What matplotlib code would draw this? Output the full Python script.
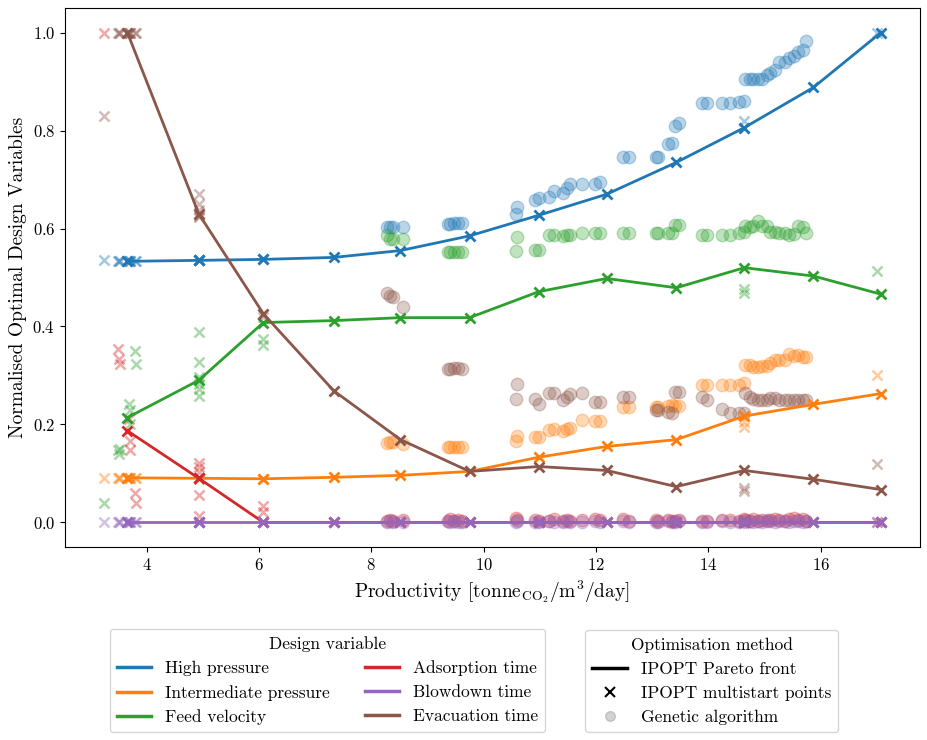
import matplotlib
matplotlib.use('Agg')
import matplotlib.pyplot as plt
from matplotlib.lines import Line2D

plt.rcParams['font.family'] = 'serif'
plt.rcParams['font.serif'] = ['cmr10', 'DejaVu Serif']
plt.rcParams['mathtext.fontset'] = 'cm'
plt.rcParams['axes.formatter.use_mathtext'] = True

variables = ['High pressure', 'Intermediate pressure', 'Feed velocity',
             'Adsorption time', 'Blowdown time', 'Evacuation time']
colors = ['tab:blue', 'tab:orange', 'tab:green', 'tab:red', 'tab:purple', 'tab:brown']

# IPOPT Pareto front
pareto_x = [3.66, 4.93, 6.08, 7.33, 8.52, 9.75, 10.98, 12.19, 13.43, 14.64, 15.87, 17.07]
pareto_hp = [0.533, 0.535, 0.537, 0.541, 0.555, 0.585, 0.627, 0.670, 0.735, 0.806, 0.888, 1.0]
pareto_ip = [0.091, 0.090, 0.089, 0.092, 0.096, 0.104, 0.133, 0.155, 0.169, 0.217, 0.241, 0.263]
pareto_fv = [0.214, 0.290, 0.408, 0.412, 0.418, 0.418, 0.471, 0.498, 0.479, 0.520, 0.503, 0.466]
pareto_at = [0.187, 0.090, 0.0, 0.0, 0.0, 0.0, 0.0, 0.0, 0.0, 0.0, 0.0, 0.0]
pareto_bt = [0.0, 0.0, 0.0, 0.0, 0.0, 0.0, 0.0, 0.0, 0.0, 0.0, 0.0, 0.0]
pareto_et = [1.0, 0.630, 0.426, 0.269, 0.169, 0.104, 0.114, 0.106, 0.073, 0.106, 0.088, 0.067]

# IPOPT multistart points
ms_x = [3.24, 3.49, 3.51, 3.53, 3.69, 3.70, 3.71, 3.80, 3.81,
        4.93, 4.93, 4.93, 4.93, 4.93, 4.93, 6.08, 6.08, 14.64, 14.64, 17.0]
ms_hp = [0.535, 0.533, 0.533, 0.533, 0.533, 0.533, 0.533, 0.533, 0.533,
         0.535, 0.535, 0.535, 0.535, 0.535, 0.535, 0.537, 0.537, 0.820, 0.806, 1.0]
ms_ip = [0.090, 0.091, 0.091, 0.091, 0.091, 0.091, 0.091, 0.091, 0.091,
         0.090, 0.090, 0.090, 0.090, 0.090, 0.090, 0.089, 0.089, 0.195, 0.205, 0.301]
ms_fv = [0.040, 0.147, 0.140, 0.150, 0.242, 0.229, 0.201, 0.350, 0.324,
         0.388, 0.327, 0.297, 0.283, 0.273, 0.259, 0.375, 0.363, 0.477, 0.468, 0.514]
ms_at = [1.0, 0.354, 0.334, 0.324, 0.212, 0.167, 0.147, 0.060, 0.039,
         0.121, 0.113, 0.103, 0.089, 0.055, 0.013, 0.033, 0.021, 0.0, 0.0, 0.0]
ms_bt = [0.0] * 20
ms_et = [0.830, 1.0, 1.0, 1.0, 1.0, 1.0, 1.0, 1.0, 1.0,
         0.671, 0.651, 0.637, 0.623, 0.630, 0.625, 0.420, 0.426, 0.071, 0.065, 0.120]

# Genetic algorithm solutions
ga_x = [8.28, 8.34, 8.39, 8.57,
        9.36, 9.41, 9.48, 9.55, 9.62,
        10.57, 10.60,
        10.92, 10.98, 11.16, 11.25, 11.41, 11.49, 11.53, 11.75, 11.99, 12.08,
        12.49, 12.58, 13.06, 13.10,
        13.29, 13.35, 13.40, 13.47,
        13.89, 13.98, 14.24, 14.39, 14.54, 14.63,
        14.66, 14.75, 14.80, 14.89, 14.96, 15.05, 15.10, 15.19, 15.25, 15.37,
        15.43, 15.52, 15.59, 15.68, 15.73]
ga_hp = [0.604, 0.604, 0.604, 0.604,
         0.610, 0.610, 0.612, 0.612, 0.612,
         0.630, 0.643,
         0.659, 0.663, 0.664, 0.676, 0.673, 0.683, 0.690, 0.690, 0.690, 0.694,
         0.746, 0.746, 0.746, 0.746,
         0.773, 0.775, 0.810, 0.815,
         0.857, 0.857, 0.857, 0.857, 0.859, 0.861,
         0.905, 0.905, 0.905, 0.905, 0.905, 0.914, 0.918, 0.924, 0.941, 0.941,
         0.948, 0.953, 0.960, 0.965, 0.982]
ga_ip = [0.163, 0.165, 0.165, 0.161,
         0.154, 0.154, 0.154, 0.154, 0.154,
         0.166, 0.176,
         0.174, 0.174, 0.188, 0.191, 0.186, 0.191, 0.192, 0.209, 0.208, 0.208,
         0.235, 0.235, 0.235, 0.235,
         0.238, 0.239, 0.237, 0.238,
         0.280, 0.280, 0.280, 0.280, 0.280, 0.285,
         0.322, 0.322, 0.318, 0.317, 0.320, 0.320, 0.325, 0.331, 0.331, 0.331,
         0.343, 0.339, 0.341, 0.337, 0.337]
ga_fv = [0.586, 0.578, 0.578, 0.578,
         0.552, 0.552, 0.552, 0.552, 0.552,
         0.555, 0.582,
         0.557, 0.557, 0.586, 0.586, 0.584, 0.586, 0.587, 0.590, 0.590, 0.590,
         0.590, 0.590, 0.590, 0.590,
         0.590, 0.590, 0.608, 0.608,
         0.586, 0.586, 0.586, 0.586, 0.590, 0.592,
         0.606, 0.603, 0.606, 0.616, 0.606, 0.606, 0.592, 0.592, 0.590, 0.590,
         0.586, 0.589, 0.606, 0.604, 0.590]
ga_at = [0.003, 0.005, 0.002, 0.004,
         0.003, 0.006, 0.002, 0.004, 0.003,
         0.008, 0.004,
         0.005, 0.002, 0.003, 0.006, 0.002, 0.004, 0.003, 0.005, 0.007, 0.004,
         0.006, 0.003, 0.005, 0.002,
         0.004, 0.003, 0.002, 0.005,
         0.003, 0.002, 0.004, 0.005, 0.003, 0.006,
         0.004, 0.002, 0.006, 0.003, 0.005, 0.002, 0.004, 0.007, 0.005, 0.003,
         0.006, 0.008, 0.004, 0.007, 0.003]
ga_bt = [0.001, 0.002, 0.0, 0.001,
         0.002, 0.001, 0.003, 0.001, 0.0,
         0.001, 0.002,
         0.0, 0.001, 0.002, 0.0, 0.001, 0.002, 0.0, 0.001, 0.002, 0.001,
         0.002, 0.001, 0.0, 0.001,
         0.002, 0.0, 0.001, 0.002,
         0.0, 0.001, 0.002, 0.001, 0.0, 0.002,
         0.001, 0.003, 0.0, 0.002, 0.001, 0.004, 0.002, 0.001, 0.003, 0.002,
         0.001, 0.002, 0.003, 0.001, 0.002]
ga_et = [0.468, 0.463, 0.461, 0.440,
         0.314, 0.314, 0.316, 0.316, 0.314,
         0.251, 0.282,
         0.251, 0.242, 0.264, 0.264, 0.250, 0.257, 0.263, 0.265, 0.245, 0.245,
         0.257, 0.257, 0.230, 0.230,
         0.225, 0.223, 0.266, 0.266,
         0.256, 0.250, 0.232, 0.223, 0.223, 0.223,
         0.264, 0.256, 0.252, 0.250, 0.250, 0.250, 0.254, 0.254, 0.250, 0.250,
         0.250, 0.250, 0.250, 0.250, 0.250]

pareto = [pareto_hp, pareto_ip, pareto_fv, pareto_at, pareto_bt, pareto_et]
multistart = [ms_hp, ms_ip, ms_fv, ms_at, ms_bt, ms_et]
genetic = [ga_hp, ga_ip, ga_fv, ga_at, ga_bt, ga_et]

fig = plt.figure(figsize=(9.28, 7.4), dpi=100)
ax = fig.add_axes([0.070, 0.261, 0.921, 0.728])

for vals, c in zip(genetic, colors):
    ax.plot(ga_x, vals, 'o', color=c, alpha=0.3, markersize=9, markeredgewidth=1)
for vals, c in zip(multistart, colors):
    ax.plot(ms_x, vals, 'x', color=c, alpha=0.4, markersize=7, markeredgewidth=1.8)
for vals, c in zip(pareto, colors):
    ax.plot(pareto_x, vals, '-x', color=c, linewidth=2, markersize=7, markeredgewidth=2)

ax.set_xticks([4, 6, 8, 10, 12, 14, 16])
ax.tick_params(labelsize=12)
ax.set_xlabel(r'Productivity [tonne$_{\mathrm{CO_2}}$/m$^3$/day]', fontsize=14)
ax.set_ylabel('Normalised Optimal Design Variables', fontsize=14)

var_handles = [Line2D([], [], color=c, linewidth=2.5) for c in colors]
fig.legend(var_handles, variables, title='Design variable', ncol=2, loc='center',
           bbox_to_anchor=(0.353, 0.080), fontsize=12.5, title_fontsize=12.5)

method_handles = [Line2D([], [], color='black', linewidth=2.5),
                  Line2D([], [], color='black', marker='x', linestyle='none', markersize=7, markeredgewidth=1.5),
                  Line2D([], [], color='grey', marker='o', linestyle='none', markersize=7, alpha=0.35)]
method_labels = ['IPOPT Pareto front', 'IPOPT multistart points', 'Genetic algorithm']
fig.legend(method_handles, method_labels, title='Optimisation method', loc='center',
           bbox_to_anchor=(0.767, 0.080), fontsize=12.5, title_fontsize=12.5)

plt.savefig('out.png', dpi=100)
